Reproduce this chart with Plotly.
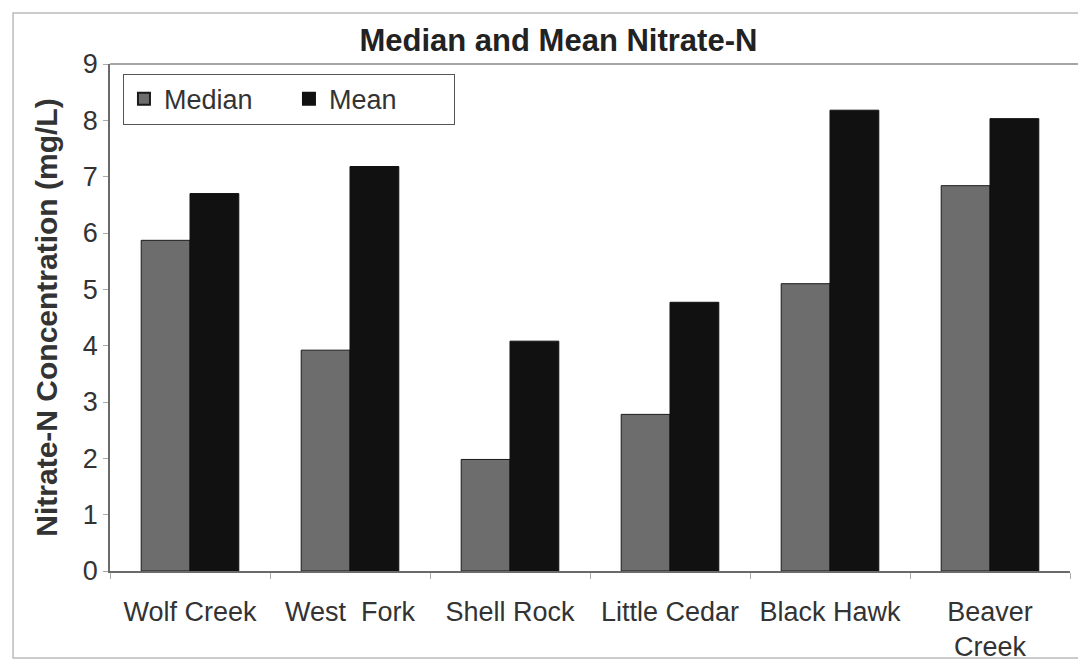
import plotly.graph_objects as go

# Sites along the watershed and nitrate-N statistics (mg/L)
sites = ["Wolf Creek", "West\u00a0\u00a0Fork", "Shell Rock", "Little Cedar", "Black Hawk", "Beaver<br>Creek"]
median_vals = [5.87, 3.92, 1.98, 2.78, 5.10, 6.84]
mean_vals = [6.70, 7.18, 4.08, 4.77, 8.18, 8.03]
y_ticks = [0, 1, 2, 3, 4, 5, 6, 7, 8, 9]

FONT = "Liberation Sans, Arial, sans-serif"
TXT = "#333333"

fig = go.Figure()
fig.add_trace(go.Bar(
    name="Median", x=sites, y=median_vals,
    marker=dict(color="#6d6d6d", line=dict(color="#1a1a1a", width=1)),
))
fig.add_trace(go.Bar(
    name="Mean", x=sites, y=mean_vals,
    marker=dict(color="#111111", line=dict(color="#111111", width=1)),
))

fig.update_layout(
    width=1078, height=667,
    margin=dict(l=110, r=8, t=64, b=96),
    paper_bgcolor="white", plot_bgcolor="white",
    barmode="group", bargap=0.39, bargroupgap=0,
    font=dict(family=FONT, color=TXT),
    title=dict(
        text="<b>Median and Mean Nitrate-N</b>",
        font=dict(size=31, color="#222222", family=FONT),
        x=0.518, xanchor="center", xref="container",
        y=0.94, yanchor="middle", yref="container",
    ),
    legend=dict(
        orientation="h", x=0.0135, y=0.981, xanchor="left", yanchor="top",
        bordercolor="#555555", borderwidth=1, bgcolor="white",
        font=dict(size=27, color=TXT, family=FONT),
        entrywidth=120, itemsizing="constant", itemwidth=30,
    ),
    xaxis=dict(
        showline=True, linecolor="#6a6a6a", linewidth=1.5,
        ticks="outside", ticklen=6, tickcolor="#aaaaaa", tickson="boundaries",
        tickfont=dict(size=27, color=TXT, family=FONT),
        ticklabelstandoff=16, automargin=False,
        showgrid=False,
    ),
    yaxis=dict(
        range=[0, 9], tickvals=y_ticks,
        showline=True, linecolor="#6a6a6a", linewidth=1.5, mirror=False,
        ticks="outside", ticklen=5, tickcolor="#aaaaaa",
        tickfont=dict(size=27, color=TXT, family=FONT),
        showgrid=False, zeroline=False, automargin=False,
        title=dict(text="<b>Nitrate-N Concentration (mg/L)</b>",
                   font=dict(size=30, color=TXT, family=FONT), standoff=16),
    ),
)

# Outer chart frame and plot-area top border
fig.add_shape(type="rect", xref="paper", yref="paper",
              x0=-0.101, x1=1.02, y0=-0.1716, y1=1.1006,
              line=dict(color="#bbbbbb", width=1.5), fillcolor="rgba(0,0,0,0)")
fig.add_shape(type="line", xref="paper", yref="paper",
              x0=0, x1=1.02, y0=1, y1=1,
              line=dict(color="#888888", width=1.5))

fig.write_html("out.html")
